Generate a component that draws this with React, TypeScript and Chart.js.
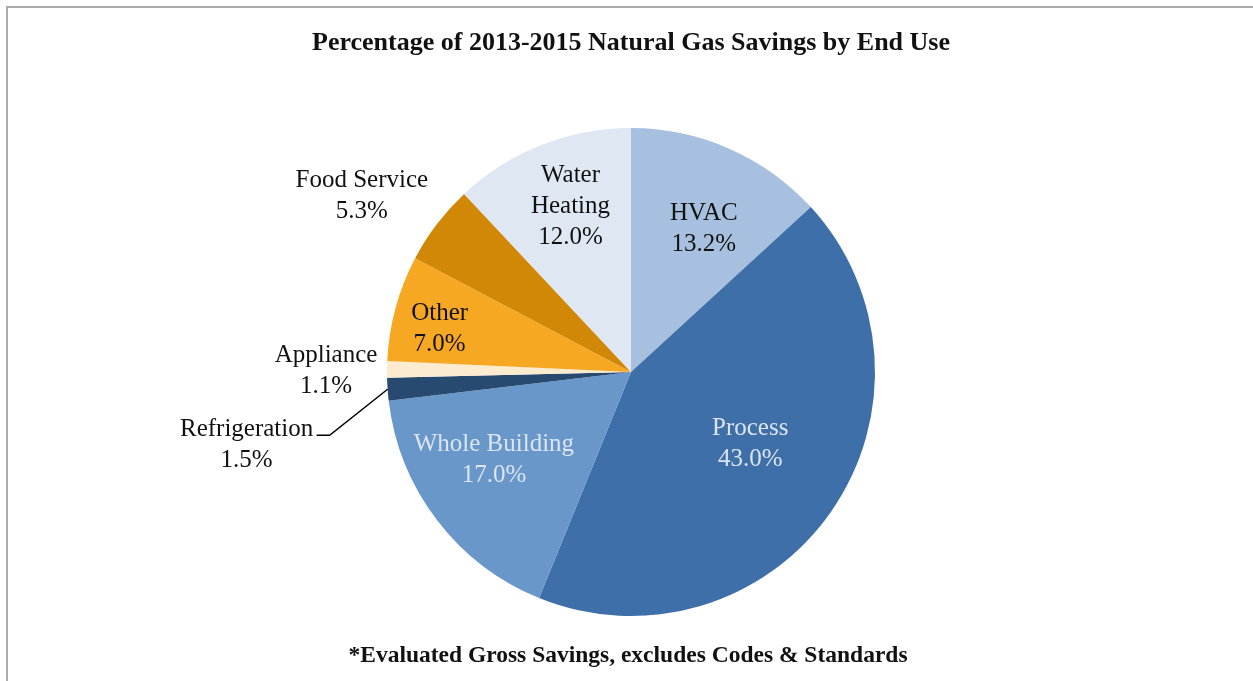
import React, { useEffect, useRef } from "react";
import { Chart, registerables } from "chart.js";

Chart.register(...registerables);

const categories = ["HVAC", "Process", "Whole Building", "Refrigeration", "Appliance", "Other", "Food Service", "Water Heating"];
const values = [13.2, 43.0, 17.0, 1.5, 1.1, 7.0, 5.3, 12.0];
const sliceColors = ["#a7c0df", "#3e6fa8", "#6a97c9", "#284a71", "#fdebcf", "#f7a823", "#d18806", "#dfe7f3"];
const labelLines = [["HVAC"], ["Process"], ["Whole Building"], ["Refrigeration"], ["Appliance"], ["Other"], ["Food Service"], ["Water", "Heating"]];
const labelColors = ["#111111", "#dbe5f1", "#dbe5f1", "#111111", "#111111", "#111111", "#111111", "#111111"];
// radius factor and pixel nudge for each label
const labelRadius = [0.66, 0.57, 0.66, 1.0, 1.25, 0.8, 1.32, 0.73];
const labelNudge = [[8, 4], [5, -7], [-9, -10], [0, 0], [0, 2], [-3, 8], [-13, 19], [5, 0]];
const titleText = "Percentage of 2013-2015 Natural Gas Savings by End Use";
const footerText = "*Evaluated Gross Savings, excludes Codes & Standards";

const FONT = "'Liberation Serif', 'Times New Roman', serif";

const labelPlugin = {
  id: "sliceLabels",
  afterDatasetsDraw(chart: any) {
    const ctx = chart.ctx;
    const meta = chart.getDatasetMeta(0);
    ctx.save();
    ctx.textAlign = "center";
    ctx.textBaseline = "middle";
    ctx.font = `25px ${FONT}`;
    const lh = 31;
    meta.data.forEach((arc: any, i: number) => {
      const mid = (arc.startAngle + arc.endAngle) / 2;
      const r = arc.outerRadius * labelRadius[i];
      let x = arc.x + Math.cos(mid) * r + labelNudge[i][0];
      let y = arc.y + Math.sin(mid) * r + labelNudge[i][1];
      const lines = [...labelLines[i], values[i].toFixed(1) + "%"];
      if (i === 3) {
        // leader line
        const ax = arc.x + Math.cos(mid) * arc.outerRadius;
        const ay = arc.y + Math.sin(mid) * arc.outerRadius;
        const ex = ax - 58, ey = ay + 46;
        const lx = ex - 13;
        ctx.strokeStyle = "#000";
        ctx.lineWidth = 1.5;
        ctx.beginPath();
        ctx.moveTo(ax, ay);
        ctx.lineTo(ex, ey);
        ctx.lineTo(lx, ey);
        ctx.stroke();
        x = lx - 70;
        y = ey + 10;
      }
      ctx.fillStyle = labelColors[i];
      const top = y - ((lines.length - 1) * lh) / 2;
      lines.forEach((t, k) => ctx.fillText(t, x, top + k * lh));
    });
    // title & footer
    ctx.fillStyle = "#111";
    ctx.font = `bold 26px ${FONT}`;
    ctx.fillText(titleText, 631, 43);
    ctx.font = `bold 23.5px ${FONT}`;
    ctx.fillText(footerText, 628, 656);
    ctx.restore();
  },
};

export default function App() {
  const ref = useRef<HTMLCanvasElement>(null);
  useEffect(() => {
    if (!ref.current) return;
    const chart = new Chart(ref.current, {
      type: "pie",
      data: {
        labels: categories,
        datasets: [
          {
            data: values,
            backgroundColor: sliceColors,
            borderWidth: 0,
          },
        ],
      },
      options: {
        responsive: false,
        animation: false,
        layout: { padding: { top: 128, bottom: 65, left: 9, right: 0 } },
        plugins: { legend: { display: false }, tooltip: { enabled: false }, title: { display: false } },
      },
      plugins: [labelPlugin],
    });
    return () => chart.destroy();
  }, []);
  return (
    <div style={{ position: "absolute", left: 0, top: 0, width: 1253, height: 681, overflow: "hidden", background: "#fff" }}>
      <div style={{ position: "absolute", left: 6, top: 6, width: 1270, height: 700, border: "2px solid #adadad" }} />
      <canvas ref={ref} width={1253} height={681} style={{ position: "absolute", left: 0, top: 0 }} />
    </div>
  );
}
